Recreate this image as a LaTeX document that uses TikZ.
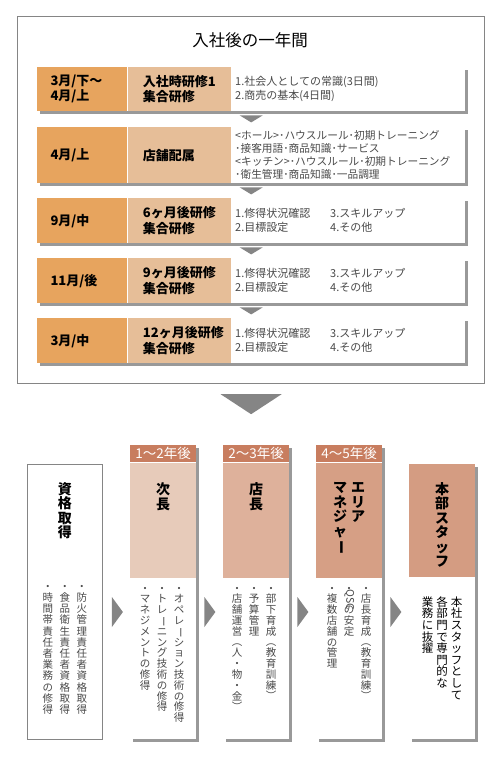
\documentclass[tikz,border=0pt]{standalone}
\usepackage{fontspec}
\setmainfont{Noto Sans CJK JP}
\usepackage{graphicx}
\usetikzlibrary{shadows,calc}

\definecolor{datec}{HTML}{E7A45E}
\definecolor{labc}{HTML}{E6BE98}
\definecolor{tagc}{HTML}{C87D5F}
\definecolor{cA}{HTML}{E7CBBA}
\definecolor{cB}{HTML}{DEB19B}
\definecolor{cC}{HTML}{D69F85}
\definecolor{cD}{HTML}{D49C82}
\definecolor{txtg}{HTML}{4A4A4A}
\definecolor{arrg}{HTML}{858585}

\makeatletter
\newcommand\rotch[1]{\rotatebox[origin=c]{-90}{#1}}
\newcommand\vcol[2]{\vtop{\baselineskip=#1pt\lineskiplimit=-100pt\lineskip=0pt\@tfor\vc@c:=#2\do{\hbox to 14pt{\hss\vc@c\hss}}}}
\makeatother

\tikzset{
  shad/.style={drop shadow={shadow xshift=2.5pt,shadow yshift=-2.5pt,fill=black,opacity=0.4}},
  rowbox/.style={anchor=north west,minimum width=428pt,fill=white,shad,inner sep=0pt},
  datecell/.style={anchor=north west,minimum width=90pt,fill=datec,inner sep=0pt},
  labcell/.style={anchor=north west,minimum width=103pt,fill=labc,inner sep=0pt},
  datetxt/.style={anchor=west,align=left,font=\fontsize{13}{15}\selectfont\bfseries},
  labtxt/.style={anchor=west,align=left,font=\fontsize{13}{15.5}\selectfont\bfseries},
  contxt/.style={anchor=west,align=left,text=txtg,font=\fontsize{11}{14}\selectfont,inner sep=0pt},
  colbox/.style={anchor=north west,minimum width=66pt,fill=white,shad,inner sep=0pt},
  tagcell/.style={anchor=north west,minimum width=66pt,minimum height=17pt,fill=tagc,inner sep=0pt,text=white,font=\fontsize{13.5}{13.5}\selectfont},
  headcell/.style={anchor=north west,minimum width=66pt,inner sep=0pt},
  headtxt/.style={anchor=north,inner sep=0pt,font=\fontsize{14}{14}\selectfont\bfseries},
  bodytxt/.style={anchor=north,inner sep=0pt,text=txtg,font=\fontsize{10.5}{10.5}\selectfont},
}

\begin{document}
\begin{tikzpicture}[x=1pt,y=-1pt]
\useasboundingbox (0,0) rectangle (500,759);

% frame and title
\node[draw=arrg,line width=1.2pt,minimum width=467pt,minimum height=367pt,anchor=north west,inner sep=0pt] (frame) at (17,16) {};
\node[font=\fontsize{16.5}{18}\selectfont] (title) at (250,40) {入社後の一年間};

% rows
\node[rowbox,minimum height=44pt] (r1) at (37,67) {};
\node[rowbox,minimum height=56pt] (r2) at (37,127) {};
\node[rowbox,minimum height=45pt] (r3) at (37,198) {};
\node[rowbox,minimum height=45pt] (r4) at (37,258) {};
\node[rowbox,minimum height=45pt] (r5) at (37,318) {};

\foreach \r/\h in {1/44,2/56,3/45,4/45,5/45}{
  \node[datecell,minimum height=\h pt] (d\r) at (r\r.north west) {};
  \node[labcell,minimum height=\h pt] (l\r) at (d\r.north east) {};
}

\node[datetxt] (dt1) at ($(d1.west)+(10,0)$) {3月/下～\\4月/上};
\node[datetxt] (dt2) at ($(d2.west)+(10,0)$) {4月/上};
\node[datetxt] (dt3) at ($(d3.west)+(10,0)$) {9月/中};
\node[datetxt] (dt4) at ($(d4.west)+(10,0)$) {11月/後};
\node[datetxt] (dt5) at ($(d5.west)+(10,0)$) {3月/中};

\node[labtxt] (lt1) at ($(l1.west)+(12,0)$) {入社時研修1\\集合研修};
\node[labtxt] (lt2) at ($(l2.west)+(12,0)$) {店舗配属};
\node[labtxt] (lt3) at ($(l3.west)+(12,0)$) {6ヶ月後研修\\集合研修};
\node[labtxt] (lt4) at ($(l4.west)+(12,0)$) {9ヶ月後研修\\集合研修};
\node[labtxt] (lt5) at ($(l5.west)+(12,0)$) {12ヶ月後研修\\集合研修};

\node[contxt] (ct1) at ($(r1.west)+(198,0)$) {1.社会人としての常識(3日間)\\2.商売の基本(4日間)};
\node[contxt,font=\fontsize{10.7}{13}\selectfont] (ct2) at ($(r2.west)+(198,0)$) {<ホール>･ハウスルール･初期トレーニング\\･接客用語･商品知識･サービス\\<キッチン>･ハウスルール･初期トレーニング\\･衛生管理･商品知識･一品調理};
\foreach \r in {3,4,5}{
  \node[contxt] (ca\r) at ($(r\r.west)+(198,0)$) {1.修得状況確認\\2.目標設定};
  \node[contxt] (cb\r) at ($(r\r.west)+(293,0)$) {3.スキルアップ\\4.その他};
}

% small arrows between rows
\foreach \r in {1,2,3,4}{
  \fill[arrg] ($(r\r.south)+(-11.5,4)$) -- ++(23,0) -- ++(-11.5,7) -- cycle;
}
% big arrow
\fill[arrg] ($(frame.south)+(-30.5,10)$) -- ++(61,0) -- ++(-30.5,20) -- cycle;

% bottom: qualification box
\node[draw=arrg,line width=0.9pt,fill=white,anchor=north west,minimum width=75pt,minimum height=275pt,inner sep=0pt] (q) at (27,464) {};
\node[headtxt] (qh) at ($(q.north)+(0,18)$) {\vcol{14.5}{資格取得}};
\node[bodytxt] (qb) at ($(q.north)+(0,121)$) {\vcol{11.2}{・時間帯責任者業務の修得}\hskip3pt\vcol{11.2}{・食品衛生責任者資格取得}\hskip3pt\vcol{11.2}{・防火管理責任者資格取得}};

% columns
\node[colbox,minimum height=294pt] (c1) at (130,445) {};
\node[colbox,minimum height=294pt] (c2) at (223,445) {};
\node[colbox,minimum height=294pt] (c3) at (316,445) {};
\node[colbox,minimum height=275pt] (c4) at (409,464) {};

\node[tagcell] (t1) at (c1.north west) {1～2年後};
\node[tagcell] (t2) at (c2.north west) {2～3年後};
\node[tagcell] (t3) at (c3.north west) {4～5年後};

\node[headcell,fill=cA,minimum height=115pt] (h1) at (t1.south west) {};
\node[headcell,fill=cB,minimum height=115pt] (h2) at (t2.south west) {};
\node[headcell,fill=cC,minimum height=115pt] (h3) at (t3.south west) {};
\node[headcell,fill=cD,minimum height=113pt] (h4) at (c4.north west) {};

\node[headtxt] (ht1) at ($(h1.north)+(0,20)$) {\vcol{14.5}{次長}};
\node[headtxt] (ht2) at ($(h2.north)+(0,20)$) {\vcol{14.5}{店長}};
\node[headtxt] (ht3) at ($(h3.north)+(0,20)$) {\vcol{14.5}{マネジャ{\rotch{ー}}}\hskip4pt\vcol{14.5}{エリア}};
\node[headtxt] (ht4) at ($(h4.north)+(0,18)$) {\vcol{14.5}{本部スタッフ}};

\node[bodytxt] (b1) at ($(h1.south)+(-1,9)$) {\vcol{10.8}{・マネジメントの修得}\hskip3pt\vcol{10.8}{・トレ{\rotch{ー}}ニング技術の修得}\hskip3pt\vcol{10.8}{・オペレ{\rotch{ー}}ション技術の修得}};
\node[bodytxt] (b2) at ($(h2.south)+(-2,9)$) {\vcol{10.8}{・店舗運営{\rotch{（}}人・物・金{\rotch{）}}}\hskip3pt\vcol{10.8}{・予算管理}\hskip3pt\vcol{10.8}{・部下育成{\rotch{（}}教育訓練{\rotch{）}}}};
\node[bodytxt] (b3) at ($(h3.south)+(0,9)$) {\vcol{10.8}{・複数店舗の管理}\hskip3pt\vcol{10.8}{・{\rotch{QSC}}の安定}\hskip3pt\vcol{10.8}{・店長育成{\rotch{（}}教育訓練{\rotch{）}}}};
\node[bodytxt,text=black,font=\fontsize{11.5}{11.5}\selectfont] (b4) at ($(h4.south)+(0,19)$) {\vcol{11.6}{業務に抜擢}\hskip0.5pt\vcol{11.6}{各部門で専門的な}\hskip0.5pt\vcol{11.6}{本社スタッフとして}};

% right arrows between columns
\coordinate (ay) at (0,612);
\fill[arrg] ($(q.east|-ay)+(9,-15)$) -- ++(11,15) -- ++(-11,15) -- cycle;
\fill[arrg] ($(c1.east|-ay)+(8,-15)$) -- ++(11,15) -- ++(-11,15) -- cycle;
\fill[arrg] ($(c2.east|-ay)+(8,-15)$) -- ++(11,15) -- ++(-11,15) -- cycle;
\fill[arrg] ($(c3.east|-ay)+(8,-15)$) -- ++(11,15) -- ++(-11,15) -- cycle;
\end{tikzpicture}
\end{document}
